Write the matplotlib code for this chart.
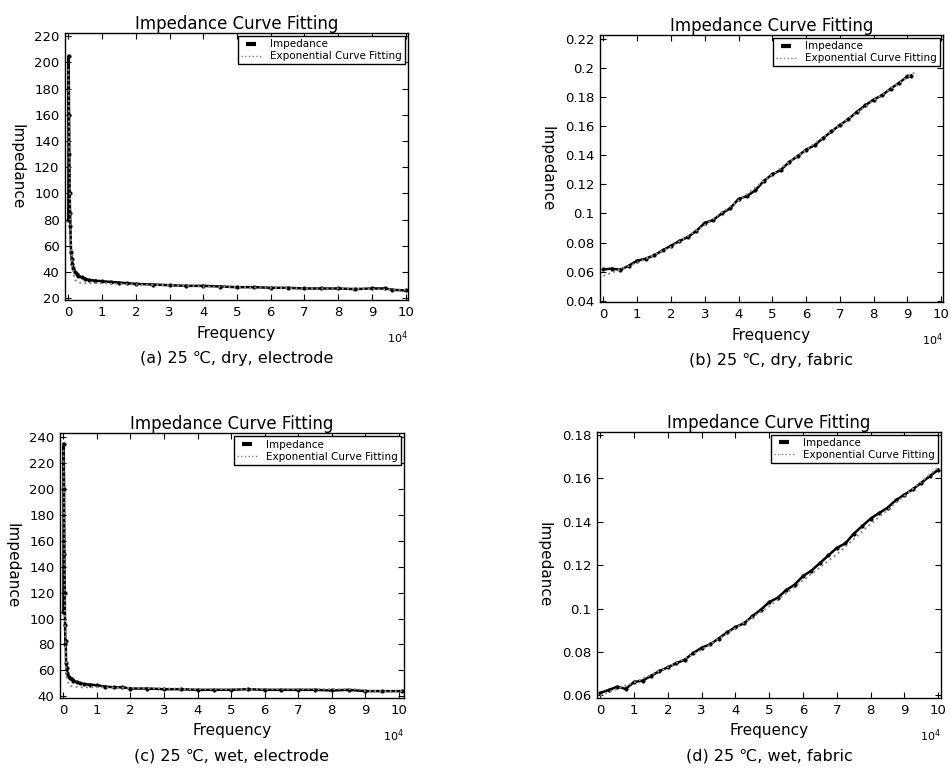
"""
Impedance curve fitting plots, 4 panels (dry/wet, electrode/fabric)
"""

import numpy as np
import matplotlib
matplotlib.use('Agg')
import matplotlib.pyplot as plt
from matplotlib.lines import Line2D
from matplotlib.ticker import FuncFormatter

# frequency in units of 10^4
a_freq = [0, 0.01, 0.02, 0.03, 0.04, 0.05, 0.06, 0.08, 0.10, 0.12, 0.15, 0.2, 0.25, 0.3, 0.4,
          0.5, 0.6, 0.8, 1.0, 1.25, 1.5, 1.75, 2.0, 2.5, 3.0, 3.5, 4.0, 4.5, 5.0, 5.5, 6.0,
          6.5, 7.0, 7.5, 8.0, 8.5, 9.0, 9.4, 9.6, 10.0]
a_imp = [80, 205, 160, 130, 100, 85, 75, 55, 50, 46, 43, 40, 38.5, 37, 36,
         35, 34, 33.5, 33, 32.5, 32, 31.5, 31, 30.5, 30, 29.5, 29.5, 29, 28.5, 28.5, 28,
         28, 27.5, 27.5, 27.5, 27, 27.5, 27.5, 26.5, 26]
a_fit_freq = [0, 0.02, 0.04, 0.06, 0.08, 0.1, 0.15, 0.2, 0.3, 0.5, 1, 2, 3, 4, 5, 6, 7, 8, 9, 10]
a_fit = [195, 150, 110, 80, 60, 48, 38, 34, 32, 31.5, 31.5, 30.5, 30, 29, 28.5, 28, 27.5, 27.5, 27, 26.5]

b_freq = [0, 0.25, 0.5, 0.75, 1.0, 1.25, 1.5, 1.75, 2.0, 2.25, 2.5, 2.75, 3.0, 3.25, 3.5, 3.75,
          4.0, 4.25, 4.5, 4.75, 5.0, 5.25, 5.5, 5.75, 6.0, 6.25, 6.5, 6.75, 7.0, 7.25, 7.5,
          7.75, 8.0, 8.25, 8.5, 8.75, 9.0, 9.1]
b_imp = [0.0615, 0.0620, 0.0612, 0.0640, 0.0675, 0.0688, 0.0712, 0.0745, 0.0778, 0.0810,
         0.0838, 0.0880, 0.0935, 0.0955, 0.1000, 0.1035, 0.1100, 0.1120, 0.1160, 0.1225,
         0.1270, 0.1300, 0.1355, 0.1395, 0.1440, 0.1470, 0.1520, 0.1565, 0.1610, 0.1650,
         0.1700, 0.1745, 0.1785, 0.1815, 0.1860, 0.1900, 0.1945, 0.1950]
b_fit_freq = [0, 1, 2, 3, 4, 5, 6, 7, 8, 9, 9.2]
b_fit = [0.057, 0.066, 0.077, 0.092, 0.109, 0.127, 0.144, 0.161, 0.178, 0.194, 0.197]

c_freq = [0, 0.01, 0.02, 0.03, 0.04, 0.05, 0.06, 0.07, 0.08, 0.1, 0.12, 0.15, 0.2, 0.25, 0.3,
          0.4, 0.5, 0.6, 0.8, 1.0, 1.25, 1.5, 1.75, 2.0, 2.5, 3.0, 3.5, 4.0, 4.5, 5.0, 5.5,
          6.0, 6.5, 7.0, 7.5, 8.0, 8.5, 9.0, 9.5, 10.1]
c_imp = [105, 235, 200, 150, 120, 95, 80, 83, 66, 62, 58, 56, 54, 53, 52,
         51, 50, 49.5, 49, 48.5, 47.5, 47, 47, 46, 46, 45.5, 45.5, 45, 45, 45, 45.5,
         45, 45, 45, 45, 44.5, 45, 44, 44, 44]
c_fit_freq = [0, 0.02, 0.04, 0.06, 0.08, 0.1, 0.15, 0.2, 0.3, 0.5, 1, 2, 3, 4, 5, 6, 7, 8, 8.8, 9, 10.1]
c_fit = [230, 180, 120, 85, 62, 55, 50, 48, 47.5, 47, 47, 46.5, 46, 45.5, 45.5, 45.5, 45.5,
         45.5, 45.5, 44, 44]

d_freq = [0, 0.25, 0.5, 0.75, 1.0, 1.25, 1.5, 1.75, 2.0, 2.25, 2.5, 2.75, 3.0, 3.25, 3.5, 3.75,
          4.0, 4.25, 4.5, 4.75, 5.0, 5.25, 5.5, 5.75, 6.0, 6.25, 6.5, 6.75, 7.0, 7.25, 7.5,
          7.75, 8.0, 8.25, 8.5, 8.75, 9.0, 9.25, 9.5, 9.75, 10.0]
d_imp = [0.0612, 0.0625, 0.0640, 0.0630, 0.0662, 0.0668, 0.0690, 0.0712, 0.0730, 0.0748,
         0.0765, 0.0795, 0.0820, 0.0835, 0.0862, 0.0890, 0.0915, 0.0932, 0.0965, 0.0995,
         0.1030, 0.1050, 0.1085, 0.1110, 0.1150, 0.1175, 0.1210, 0.1245, 0.1280, 0.1300,
         0.1345, 0.1380, 0.1415, 0.1440, 0.1465, 0.1500, 0.1525, 0.1550, 0.1580, 0.1610,
         0.1640]
d_fit_freq = [0, 1, 2, 3, 4, 5, 6, 7, 8, 9, 10]
d_fit = [0.060, 0.066, 0.073, 0.081, 0.091, 0.101, 0.113, 0.125, 0.139, 0.152, 0.165]

captions = ['(a) 25 \u2103, dry, electrode', '(b) 25 \u2103, dry, fabric',
            '(c) 25 \u2103, wet, electrode', '(d) 25 \u2103, wet, fabric']

plt.rcParams['font.family'] = ['DejaVu Sans']

fig = plt.figure(figsize=(9.5, 7.74), dpi=100)

def panel(rect, fx, imp, ffx, fit, xlim, ylim, yticks, cap):
    ax = fig.add_axes(rect)
    ax.plot(fx, imp, color='black', lw=1.8, marker='.', ms=4, zorder=2)
    ax.plot(ffx, fit, color='0.55', lw=1.4, ls=':', zorder=3)
    ax.set_xlim(xlim)
    ax.set_ylim(ylim)
    ax.set_xticks(range(0, 11))
    ax.set_yticks(yticks)
    ax.yaxis.set_major_formatter(FuncFormatter(lambda v, p: '%g' % round(v, 4)))
    ax.tick_params(direction='in', top=True, right=True, length=4, labelsize=9.5, pad=4)
    for s in ax.spines.values():
        s.set_linewidth(1.0)
    ax.set_title('Impedance Curve Fitting', fontsize=12, pad=3)
    ax.set_ylabel('Impedance', rotation=270, fontsize=11, labelpad=18)
    ax.set_xlabel('Frequency', fontsize=11, labelpad=5)
    ax.text(1.0, -0.11, '10$^4$', transform=ax.transAxes, fontsize=8, ha='right', va='top')
    ax.text(0.5, -0.19, cap, transform=ax.transAxes, fontsize=11.5, ha='center', va='top')
    handles = [Line2D([], [], color='black', marker='_', ms=7, mew=3, ls='none'),
               Line2D([], [], color='0.5', lw=1, ls=':')]
    leg = ax.legend(handles, ['Impedance', 'Exponential Curve Fitting'], loc='upper right',
                    fontsize=7.5, fancybox=False, edgecolor='black', framealpha=1,
                    borderaxespad=0.3, handlelength=2, labelspacing=0.2, borderpad=0.3)
    leg.get_frame().set_linewidth(1.0)
    return ax

panel([0.0684, 0.6124, 0.361, 0.345], a_freq, a_imp, a_fit_freq, a_fit,
      (-0.1, 10.07), (18.7, 222.5), range(20, 221, 20), captions[0])
panel([0.6316, 0.6098, 0.361, 0.345], b_freq, b_imp, b_fit_freq, b_fit,
      (-0.1, 10.05), (0.039, 0.223), np.arange(0.04, 0.2201, 0.02), captions[1])
panel([0.0632, 0.0982, 0.362, 0.342], c_freq, c_imp, c_fit_freq, c_fit,
      (-0.1, 10.15), (38.7, 243), range(40, 241, 20), captions[2])
panel([0.6284, 0.0982, 0.362, 0.344], d_freq, d_imp, d_fit_freq, d_fit,
      (-0.1, 10.08), (0.0588, 0.1815), np.arange(0.06, 0.1801, 0.02), captions[3])

plt.savefig('out.png', dpi=100)
